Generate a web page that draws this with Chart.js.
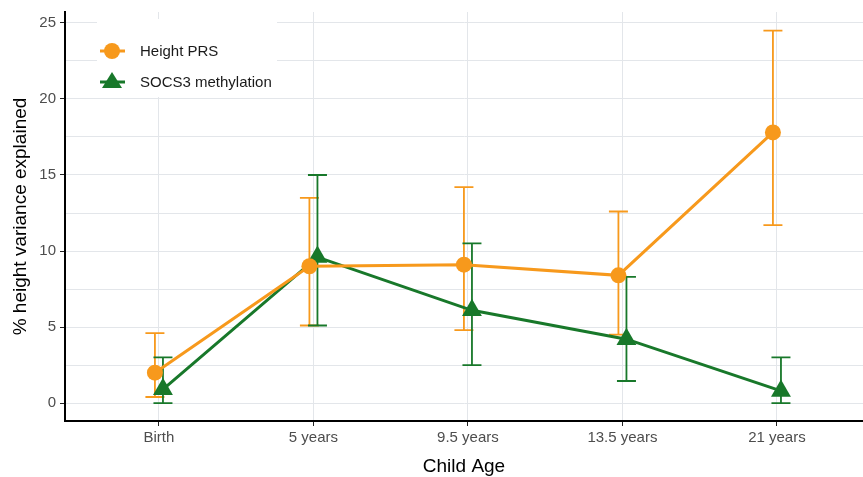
<!DOCTYPE html>
<html>
<head>
<meta charset="utf-8">
<script src="https://cdn.jsdelivr.net/npm/chart.js@4"></script>
<style>
  html, body { margin: 0; padding: 0; background: #fff; overflow: hidden; }
  canvas { display: block; }
</style>
</head>
<body>
<canvas id="chart1" width="863" height="477"></canvas>
<script>
// categories and values
const ages = ['Birth', '5 years', '9.5 years', '13.5 years', '21 years'];

const prsMean = [2.0, 9.0, 9.1, 8.4, 17.8];
const prsLow  = [0.4, 5.1, 4.8, 4.5, 11.7];
const prsHigh = [4.6, 13.5, 14.2, 12.6, 24.5];

const socsMean = [0.9, 9.6, 6.1, 4.2, 0.8];
const socsLow  = [0.0, 5.1, 2.5, 1.45, 0.0];
const socsHigh = [3.0, 15.0, 10.5, 8.3, 3.0];

const yTicks = [0, 2.5, 5, 7.5, 10, 12.5, 15, 17.5, 20, 22.5, 25];

const orange = '#f7991c';
const green = '#18782a';
const dodge = 0.026;
const fontFam = '"Liberation Sans", Arial, sans-serif';

const prsPoints = prsMean.map((v, i) => ({x: i - dodge, y: v, lo: prsLow[i], hi: prsHigh[i]}));
const socsPoints = socsMean.map((v, i) => ({x: i + dodge, y: v, lo: socsLow[i], hi: socsHigh[i]}));

// error bars, drawn before the lines/points
const errorBars = {
    id: 'errorBars',
    beforeDatasetsDraw(chart) {
        const c = chart.ctx;
        const xs = chart.scales.x, ys = chart.scales.y;
        chart.data.datasets.forEach(ds => {
            c.save();
            c.strokeStyle = ds.borderColor;
            c.lineWidth = 1.8;
            ds.data.forEach(p => {
                const x = xs.getPixelForValue(p.x);
                const y1 = ys.getPixelForValue(p.lo);
                const y2 = ys.getPixelForValue(p.hi);
                c.beginPath();
                c.moveTo(x, y1); c.lineTo(x, y2);
                c.moveTo(x - 9.5, y1); c.lineTo(x + 9.5, y1);
                c.moveTo(x - 9.5, y2); c.lineTo(x + 9.5, y2);
                c.stroke();
            });
            c.restore();
        });
    }
};

// ggplot-ish legend in the top-left corner of the plot
const boxLegend = {
    id: 'boxLegend',
    afterDatasetsDraw(chart) {
        const c = chart.ctx;
        const left = chart.chartArea.left;
        const top = chart.chartArea.top;
        c.save();
        c.fillStyle = '#fff';
        c.fillRect(left + 32, top + 7, 180, 78);
        c.font = '15px ' + fontFam;
        c.textBaseline = 'middle';
        chart.data.datasets.forEach((ds, i) => {
            const cy = top + 39 + i * 31;
            const cx = left + 47;
            c.strokeStyle = ds.borderColor;
            c.lineWidth = 3;
            c.beginPath();
            c.moveTo(cx - 12, cy); c.lineTo(cx + 13, cy);
            c.stroke();
            c.fillStyle = ds.borderColor;
            c.beginPath();
            if (ds.pointStyle === 'triangle') {
                c.moveTo(cx, cy - 10);
                c.lineTo(cx + 10, cy + 6);
                c.lineTo(cx - 10, cy + 6);
                c.closePath();
            } else {
                c.arc(cx, cy, 8, 0, Math.PI * 2);
            }
            c.fill();
            c.fillStyle = '#1a1a1a';
            c.fillText(ds.label, cx + 28, cy + 1);
        });
        c.restore();
    }
};

new Chart(document.getElementById('chart1'), {
    type: 'line',
    data: {
        datasets: [{
            label: 'Height PRS',
            data: prsPoints,
            borderColor: orange,
            backgroundColor: orange,
            borderWidth: 3,
            pointStyle: 'circle',
            pointRadius: 8,
            pointBorderWidth: 0,
            tension: 0,
            clip: false
        }, {
            label: 'SOCS3 methylation',
            data: socsPoints,
            borderColor: green,
            backgroundColor: green,
            borderWidth: 3,
            pointStyle: 'triangle',
            pointRadius: 11.5,
            pointBorderWidth: 0,
            tension: 0,
            clip: false
        }]
    },
    options: {
        responsive: false,
        animation: false,
        layout: { autoPadding: false, padding: { top: 12, right: 0, left: 0, bottom: 0 } },
        scales: {
            x: {
                type: 'linear',
                min: -0.608,
                max: 4.557,
                afterBuildTicks: scale => { scale.ticks = ages.map((a, i) => ({value: i})); },
                afterFit: scale => {
                    scale.height = 56;
                    scale.paddingLeft = 0;
                    scale.paddingRight = 0;
                },
                ticks: {
                    callback: v => ages[v],
                    color: '#4d4d4d',
                    font: { size: 15, family: fontFam },
                    padding: 3,
                    autoSkip: false,
                    maxRotation: 0
                },
                grid: {
                    color: '#e3e6ea',
                    lineWidth: 1,
                    tickColor: '#222',
                    tickLength: 5
                },
                border: { color: '#000', width: 2 },
                title: {
                    display: true,
                    text: 'Child Age',
                    color: '#000',
                    font: { size: 19, family: fontFam },
                    padding: { top: 0, bottom: -1 }
                }
            },
            y: {
                min: -1.18,
                max: 25.72,
                afterBuildTicks: scale => { scale.ticks = yTicks.map(v => ({value: v})); },
                afterFit: scale => {
                    scale.width = 65;
                    scale.paddingTop = 0;
                    scale.paddingBottom = 0;
                },
                ticks: {
                    callback: v => (v % 5 === 0 ? String(v) : ''),
                    color: '#4d4d4d',
                    font: { size: 15, family: fontFam },
                    padding: 4,
                    autoSkip: false
                },
                grid: {
                    color: '#e3e6ea',
                    lineWidth: 1,
                    tickColor: ctx => (ctx.tick && ctx.tick.value % 5 === 0 ? '#222' : 'rgba(0,0,0,0)'),
                    tickLength: 5
                },
                border: { color: '#000', width: 2 },
                title: {
                    display: true,
                    text: '% height variance explained',
                    color: '#000',
                    font: { size: 19, family: fontFam },
                    padding: { top: 9, bottom: 0 }
                }
            }
        },
        plugins: {
            legend: { display: false },
            tooltip: { enabled: false }
        }
    },
    plugins: [errorBars, boxLegend]
});
</script>
</body>
</html>
